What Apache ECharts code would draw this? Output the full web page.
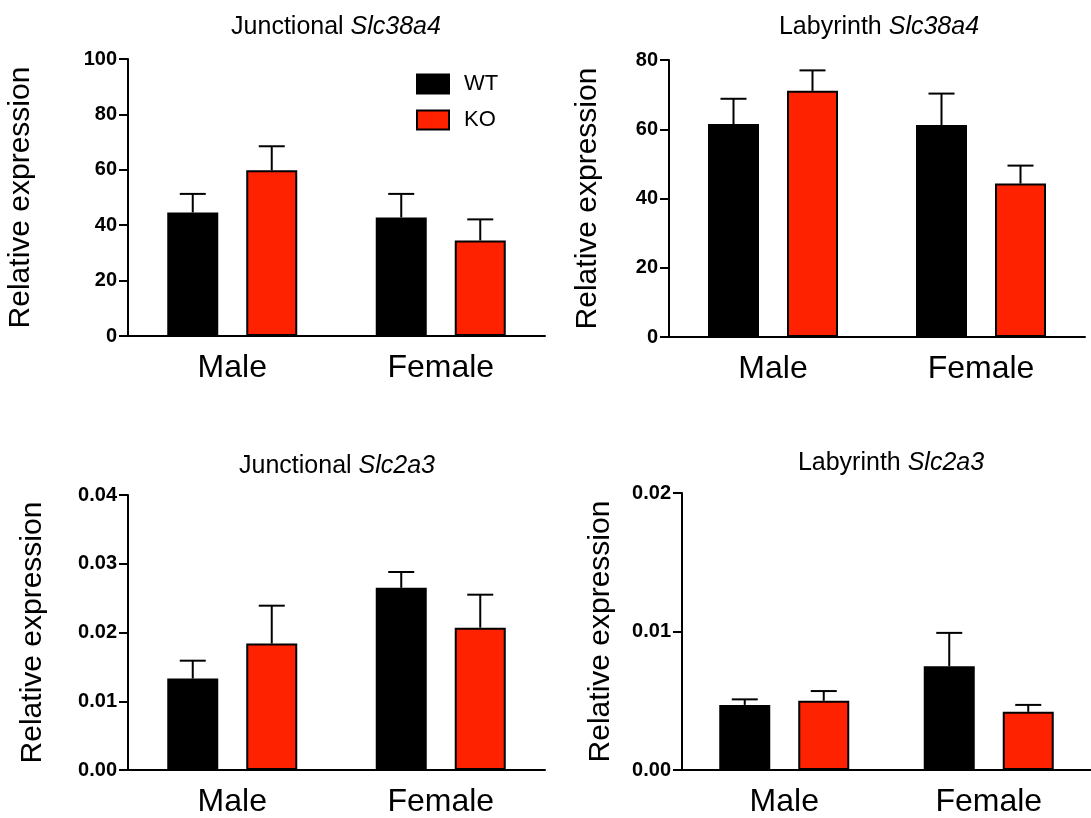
<!DOCTYPE html>
<html>
<head>
<meta charset="utf-8">
<script src="https://cdn.jsdelivr.net/npm/echarts@6/dist/echarts.min.js"></script>
<style>
  html, body { margin: 0; padding: 0; background: #ffffff; }
  #chart { width: 1091px; height: 818px; }
</style>
</head>
<body>
<div id="chart"></div>
<script>
// ---------- data ----------
const categories = ['Male', 'Female'];
const seriesNames = ['WT', 'KO'];

const titleTissue = ['Junctional', 'Labyrinth', 'Junctional', 'Labyrinth'];
const titleGene = ['Slc38a4', 'Slc38a4', 'Slc2a3', 'Slc2a3'];

// Junctional Slc38a4
const jSlc38a4WT = [44.6, 42.8];
const jSlc38a4WTsem = [6.7, 8.5];
const jSlc38a4KO = [59.8, 34.5];
const jSlc38a4KOsem = [8.7, 7.6];

// Labyrinth Slc38a4
const lSlc38a4WT = [61.5, 61.2];
const lSlc38a4WTsem = [7.3, 9.1];
const lSlc38a4KO = [71.1, 44.3];
const lSlc38a4KOsem = [5.9, 5.2];

// Junctional Slc2a3
const jSlc2a3WT = [0.0133, 0.0265];
const jSlc2a3WTsem = [0.0026, 0.0023];
const jSlc2a3KO = [0.0184, 0.0207];
const jSlc2a3KOsem = [0.0055, 0.0048];

// Labyrinth Slc2a3
const lSlc2a3WT = [0.0047, 0.0075];
const lSlc2a3WTsem = [0.0004, 0.0024];
const lSlc2a3KO = [0.0050, 0.0042];
const lSlc2a3KOsem = [0.0007, 0.0005];

// y-axis ticks
const yTicks1 = [0, 20, 40, 60, 80, 100];
const yTicks2 = [0, 20, 40, 60, 80];
const yTicks3 = [0, 0.01, 0.02, 0.03, 0.04];
const yTicks4 = [0, 0.01, 0.02];

// ---------- styling / layout ----------
const FONT = 'Liberation Sans, Arial, Helvetica, sans-serif';
const WT_COLOR = '#000000';
const KO_COLOR = '#ff2200';
const BAR_W = 51;
const BAR_GAP_PX = 28;
const CAP_HALF = 13;

const panels = [
  { wt: jSlc38a4WT, wtSem: jSlc38a4WTsem, ko: jSlc38a4KO, koSem: jSlc38a4KOsem, ticks: yTicks1, dec: 0,
    grid: { left: 128, top: 59, width: 417, height: 277 }, nameGap: 92, title: [336, 27] },
  { wt: lSlc38a4WT, wtSem: lSlc38a4WTsem, ko: lSlc38a4KO, koSem: lSlc38a4KOsem, ticks: yTicks2, dec: 0,
    grid: { left: 669, top: 60, width: 416, height: 277 }, nameGap: 66, title: [879, 27] },
  { wt: jSlc2a3WT, wtSem: jSlc2a3WTsem, ko: jSlc2a3KO, koSem: jSlc2a3KOsem, ticks: yTicks3, dec: 2,
    grid: { left: 128, top: 495, width: 417, height: 278 }, nameGap: 80, title: [337, 466] },
  { wt: lSlc2a3WT, wtSem: lSlc2a3WTsem, ko: lSlc2a3KO, koSem: lSlc2a3KOsem, ticks: yTicks4, dec: 2,
    grid: { left: 682, top: 493, width: 415, height: 279 }, nameGap: 66, title: [891, 463] }
];

const grids = [], xAxes = [], yAxes = [], series = [], graphics = [];

function errRender(offset) {
  return function (params, api) {
    const cat = api.value(0);
    const mean = api.value(1);
    const up = api.value(2);
    const base = api.coord([cat, mean]);
    const top = api.coord([cat, up]);
    const cx = base[0] + offset;
    const st = { stroke: '#000', lineWidth: 2 };
    return {
      type: 'group',
      children: [
        { type: 'line', shape: { x1: cx, y1: base[1], x2: cx, y2: top[1] }, style: st },
        { type: 'line', shape: { x1: cx - CAP_HALF, y1: top[1], x2: cx + CAP_HALF, y2: top[1] }, style: st }
      ]
    };
  };
}

panels.forEach((p, i) => {
  grids.push(Object.assign({ containLabel: false }, p.grid));
  xAxes.push({
    type: 'category', gridIndex: i, data: categories,
    axisLine: { lineStyle: { color: '#000', width: 2 } },
    axisTick: { alignWithLabel: true, length: 8, lineStyle: { color: '#000', width: 2 } },
    axisLabel: { color: '#000', fontSize: 32, fontFamily: FONT, margin: 16 },
    splitLine: { show: false }
  });
  const tmax = p.ticks[p.ticks.length - 1];
  const step = p.ticks[1] - p.ticks[0];
  yAxes.push({
    type: 'value', gridIndex: i, min: p.ticks[0], max: tmax, interval: step,
    name: 'Relative expression', nameLocation: 'middle', nameGap: p.nameGap, nameRotate: 90,
    nameTextStyle: { color: '#000', fontSize: 30, fontFamily: FONT },
    axisLine: { show: true, lineStyle: { color: '#000', width: 2 } },
    axisTick: { show: true, length: 9, lineStyle: { color: '#000', width: 2 } },
    axisLabel: { color: '#000', fontSize: 20, fontWeight: 'bold', fontFamily: FONT, margin: 11,
      formatter: v => v.toFixed(p.dec) },
    splitLine: { show: false }
  });
  const barCommon = {
    type: 'bar', xAxisIndex: i, yAxisIndex: i, barWidth: BAR_W,
    barGap: (BAR_GAP_PX / BAR_W * 100).toFixed(1) + '%',
    animation: false
  };
  series.push(Object.assign({}, barCommon, {
    name: 'WT', data: p.wt,
    itemStyle: { color: WT_COLOR, borderColor: '#000', borderWidth: 2 }
  }));
  series.push(Object.assign({}, barCommon, {
    name: 'KO', data: p.ko,
    itemStyle: { color: KO_COLOR, borderColor: '#000', borderWidth: 2 }
  }));
  const off = (BAR_W + BAR_GAP_PX) / 2;
  series.push({
    type: 'custom', xAxisIndex: i, yAxisIndex: i, z: 5, animation: false, silent: true,
    renderItem: errRender(-off),
    data: p.wt.map((v, k) => [k, v, v + p.wtSem[k]])
  });
  series.push({
    type: 'custom', xAxisIndex: i, yAxisIndex: i, z: 5, animation: false, silent: true,
    renderItem: errRender(off),
    data: p.ko.map((v, k) => [k, v, v + p.koSem[k]])
  });
  graphics.push({
    type: 'text', x: p.title[0], y: p.title[1],
    style: {
      text: '{a|' + titleTissue[i] + ' }{b|' + titleGene[i] + '}',
      align: 'center', verticalAlign: 'middle',
      rich: {
        a: { fontSize: 25, fontFamily: FONT, fill: '#000', color: '#000' },
        b: { fontSize: 25, fontFamily: FONT, fontStyle: 'italic', fill: '#000', color: '#000' }
      }
    }
  });
});

const chart = echarts.init(document.getElementById('chart'), null, { renderer: 'canvas' });
chart.setOption({
  backgroundColor: '#ffffff',
  animation: false,
  grid: grids,
  xAxis: xAxes,
  yAxis: yAxes,
  series: series,
  graphic: graphics,
  legend: {
    data: seriesNames, orient: 'vertical', left: 416, top: 73, padding: 0,
    itemWidth: 32, itemHeight: 19, itemGap: 14, icon: 'rect',
    textStyle: { color: '#000', fontSize: 22, fontFamily: FONT, padding: [0, 0, 0, 10] }
  }
});
</script>
</body>
</html>
